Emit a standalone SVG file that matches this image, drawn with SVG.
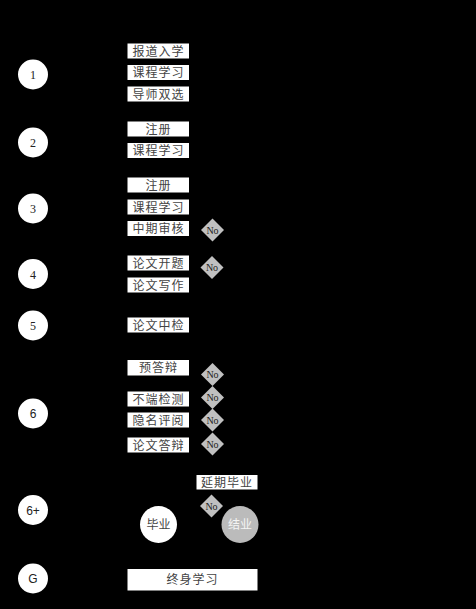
<svg xmlns="http://www.w3.org/2000/svg" width="476" height="609" viewBox="0 0 476 609">
<style>
.c{fill:#fff}
.b{fill:#fff}
.t{font-family:"Liberation Serif","Noto Sans CJK SC",serif;font-size:12px;fill:#444;text-anchor:middle;letter-spacing:1px}
.n{font-family:"Liberation Serif",serif;font-size:12px;fill:#222;text-anchor:middle}
.ns{font-family:"Liberation Sans",sans-serif;font-size:12px;fill:#222;text-anchor:middle}
.d{fill:#c0c0c0}
.dt{font-family:"Liberation Serif",serif;font-size:10px;fill:#222;text-anchor:middle}
</style>
<rect width="476" height="609" fill="#000"/>
<g id="connectors"></g>
<g id="s1"><circle class="c" cx="33" cy="74.5" r="15"/><text class="n" x="33" y="79">1</text></g>
<g id="s2"><circle class="c" cx="33" cy="142.5" r="15"/><text class="n" x="33" y="147">2</text></g>
<g id="s3"><circle class="c" cx="33" cy="208.5" r="15"/><text class="n" x="33" y="213">3</text></g>
<g id="s4"><circle class="c" cx="33" cy="274" r="15"/><text class="n" x="33" y="278.5">4</text></g>
<g id="s5"><circle class="c" cx="33" cy="325.5" r="15"/><text class="n" x="33" y="330">5</text></g>
<g id="s6"><circle class="c" cx="33" cy="413.5" r="15"/><text class="ns" x="33" y="418">6</text></g>
<g id="s6p"><circle class="c" cx="33" cy="510" r="15"/><text class="ns" x="33" y="514.5">6+</text></g>
<g id="sG"><circle class="c" cx="33" cy="578.5" r="15"/><text class="ns" x="33" y="583">G</text></g>

<g id="b1"><rect class="b" x="127.5" y="43.5" width="61.5" height="15"/><text class="t" x="158.5" y="55.5">报道入学</text></g>
<g id="b2"><rect class="b" x="127.5" y="65" width="61.5" height="15"/><text class="t" x="158.5" y="77">课程学习</text></g>
<g id="b3"><rect class="b" x="127.5" y="86.5" width="61.5" height="15"/><text class="t" x="158.5" y="98.5">导师双选</text></g>
<g id="b4"><rect class="b" x="127.5" y="121.5" width="61.5" height="15"/><text class="t" x="158.5" y="133.5">注册</text></g>
<g id="b5"><rect class="b" x="127.5" y="143" width="61.5" height="15"/><text class="t" x="158.5" y="155">课程学习</text></g>
<g id="b6"><rect class="b" x="127.5" y="177.5" width="61.5" height="15"/><text class="t" x="158.5" y="189.5">注册</text></g>
<g id="b7"><rect class="b" x="127.5" y="199.5" width="61.5" height="15"/><text class="t" x="158.5" y="211.5">课程学习</text></g>
<g id="b8"><rect class="b" x="127.5" y="221" width="61.5" height="15"/><text class="t" x="158.5" y="233">中期审核</text></g>
<g id="b9"><rect class="b" x="127.5" y="255.5" width="61.5" height="15"/><text class="t" x="158.5" y="267.5">论文开题</text></g>
<g id="b10"><rect class="b" x="127.5" y="277.5" width="61.5" height="15"/><text class="t" x="158.5" y="289.5">论文写作</text></g>
<g id="b11"><rect class="b" x="127.5" y="317.5" width="61.5" height="15"/><text class="t" x="158.5" y="329.5">论文中检</text></g>
<g id="b12"><rect class="b" x="127.5" y="360" width="61.5" height="15.5"/><text class="t" x="158.5" y="372">预答辩</text></g>
<g id="b13"><rect class="b" x="127.5" y="391.5" width="61.5" height="15"/><text class="t" x="158.5" y="403.5">不端检测</text></g>
<g id="b14"><rect class="b" x="127.5" y="412.5" width="61.5" height="15"/><text class="t" x="158.5" y="424.5">隐名评阅</text></g>
<g id="b15"><rect class="b" x="127.5" y="437.5" width="61.5" height="15"/><text class="t" x="158.5" y="449.5">论文答辩</text></g>
<g id="b16"><rect class="b" x="196.5" y="475" width="61" height="14.5"/><text class="t" x="227" y="486.5">延期毕业</text></g>
<g id="b17"><rect class="b" x="127.5" y="569" width="130" height="21.5"/><text class="t" x="192.5" y="584">终身学习</text></g>

<g id="d1"><polygon class="d" points="212.5,218.5 224,230 212.5,241.5 201,230"/><text class="dt" x="212.5" y="233.5">No</text></g>
<g id="d2"><polygon class="d" points="212,256 223.5,267.5 212,279 200.5,267.5"/><text class="dt" x="212" y="271">No</text></g>
<g id="d3"><polygon class="d" points="212.5,363 224,374.5 212.5,386 201,374.5"/><text class="dt" x="212.5" y="378">No</text></g>
<g id="d4"><polygon class="d" points="212.5,386 224,397.5 212.5,409 201,397.5"/><text class="dt" x="212.5" y="401">No</text></g>
<g id="d5"><polygon class="d" points="212.5,408.5 224,420 212.5,431.5 201,420"/><text class="dt" x="212.5" y="423.5">No</text></g>
<g id="d6"><polygon class="d" points="212.5,432.5 224,444 212.5,455.5 201,444"/><text class="dt" x="212.5" y="447.5">No</text></g>
<g id="d7"><polygon class="d" points="211.5,494.5 223,506 211.5,517.5 200,506"/><text class="dt" x="211.5" y="509.5">No</text></g>

<g id="grad"><circle cx="158.5" cy="524.5" r="18.5" fill="#fff"/><text class="t" x="158.5" y="529" style="letter-spacing:0">毕业</text></g>
<g id="comp"><circle cx="240" cy="524.5" r="18.5" fill="#bbb"/><text class="t" x="240" y="529" style="letter-spacing:0;fill:#f4f4f4">结业</text></g>
</svg>
